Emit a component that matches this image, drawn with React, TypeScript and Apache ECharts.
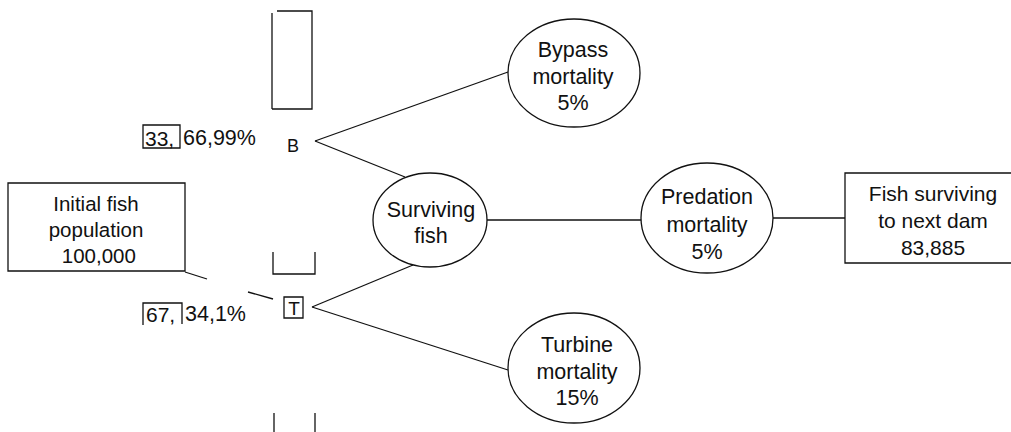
import React, { useEffect, useRef } from "react";
import * as echarts from "echarts";

// ---- Diagram content (texts) ----
const nodeNames = ["initial", "surviving", "bypass", "turbine", "predation", "final"];
const nodeTexts = [
  "Initial fish\npopulation\n 100,000",
  "Surviving\nfish",
  "Bypass\nmortality\n5%",
  "Turbine\nmortality\n15%",
  "Predation\nmortality\n5%",
  "Fish surviving\nto next dam\n83,885",
];
const routeLetters = ["B", "T"];
const routeBoxedNumbers = ["33,", "67,"];
const routePercents = ["66,99%", "34,1%"];

// ---- Layout (positions/sizes, kept separate from content) ----
const FONT = "Liberation Sans, Arial, Helvetica, sans-serif";
const INK = "#111";
const LW = 1.3;

const ellipseLayout: Record<string, { cx: number; cy: number; rx: number; ry: number; tx: number; ty: number; lh: number; fs: number }> = {
  bypass: { cx: 574, cy: 73, rx: 66, ry: 54, tx: 573, ty: 76.5, lh: 26.5, fs: 21.5 },
  surviving: { cx: 430, cy: 220, rx: 57, ry: 47, tx: 431, ty: 223, lh: 26, fs: 21.5 },
  turbine: { cx: 574, cy: 368, rx: 66, ry: 55, tx: 577, ty: 371.5, lh: 26.5, fs: 21.5 },
  predation: { cx: 707, cy: 218, rx: 66, ry: 55, tx: 707, ty: 224.5, lh: 27.5, fs: 21.5 },
};
const boxLayout: Record<string, { x: number; y: number; w: number; h: number; tx: number; ty: number; lh: number; fs: number }> = {
  initial: { x: 8, y: 183, w: 177, h: 88, tx: 96, ty: 229, lh: 26, fs: 20.5 },
  final: { x: 845, y: 173, w: 180, h: 90, tx: 933, ty: 220, lh: 27, fs: 21 },
};

const connectors: number[][][] = [
  [[315, 141], [508, 72]],
  [[315, 141], [405, 177]],
  [[312, 307], [413, 265]],
  [[312, 307], [508, 370]],
  [[487, 220], [641, 220]],
  [[773, 218], [845, 218]],
  [[185, 272], [207, 279]],
  [[248, 292], [273, 299]],
];

const damLines: number[][][] = [
  [[272, 13], [272, 109]],
  [[277, 11], [312, 11], [312, 109], [272, 109]],
  [[273, 252], [273, 274], [315, 274], [315, 252]],
  [[274, 413], [274, 440]],
  [[315, 413], [315, 440]],
];

function buildGraphics() {
  const els: any[] = [];
  els.push({ type: "rect", shape: { x: 0, y: 0, width: 1011, height: 432 }, style: { fill: "#fff" }, z: 0 });

  [...connectors, ...damLines].forEach((pts) => {
    els.push({
      type: "polyline",
      shape: { points: pts },
      style: { stroke: INK, lineWidth: LW, fill: null },
      z: 1,
    });
  });

  nodeNames.forEach((name, i) => {
    const e = ellipseLayout[name];
    const b = boxLayout[name];
    const L = e || b;
    if (e) {
      els.push({
        type: "ellipse",
        shape: { cx: e.cx, cy: e.cy, rx: e.rx, ry: e.ry },
        style: { fill: "#fff", stroke: INK, lineWidth: LW },
        z: 2,
      });
    } else if (b) {
      els.push({
        type: "rect",
        shape: { x: b.x, y: b.y, width: b.w, height: b.h },
        style: { fill: "#fff", stroke: INK, lineWidth: LW },
        z: 2,
      });
    }
    els.push({
      type: "text",
      x: L.tx,
      y: L.ty,
      style: {
        text: nodeTexts[i],
        font: `${L.fs}px ${FONT}`,
        fill: INK,
        align: "center",
        verticalAlign: "middle",
        lineHeight: L.lh,
      },
      z: 3,
    });
  });

  // Route letters
  const letterPos = [
    { x: 293, y: 146, size: 18, box: false },
    { x: 294, y: 308, size: 19, box: true },
  ];
  routeLetters.forEach((t, i) => {
    const p = letterPos[i];
    if (p.box) {
      els.push({
        type: "rect",
        shape: { x: 284, y: 297, width: 19, height: 21 },
        style: { fill: "#fff", stroke: INK, lineWidth: LW },
        z: 2,
      });
    }
    els.push({
      type: "text",
      x: p.x,
      y: p.y,
      style: { text: t, font: `${p.size}px ${FONT}`, fill: INK, align: "center", verticalAlign: "middle" },
      z: 3,
    });
  });

  // Boxed numbers and percentages
  const numPos = [
    { nx: 145, px: 183, y: 138 },
    { nx: 146, px: 185, y: 314 },
  ];
  routeBoxedNumbers.forEach((t, i) => {
    const p = numPos[i];
    if (i === 0) {
      els.push({
        type: "rect",
        shape: { x: 143, y: 125, width: 37, height: 23 },
        style: { fill: null, stroke: INK, lineWidth: LW },
        z: 2,
      });
    } else {
      els.push({
        type: "polyline",
        shape: { points: [[143, 325], [143, 303], [182, 303], [182, 324]] },
        style: { fill: null, stroke: INK, lineWidth: LW },
        z: 2,
      });
    }
    els.push({
      type: "text",
      x: p.nx,
      y: p.y,
      style: { text: t, font: `21px ${FONT}`, fill: INK, align: "left", verticalAlign: "middle" },
      z: 3,
    });
    els.push({
      type: "text",
      x: p.px,
      y: p.y,
      style: { text: routePercents[i], font: `21.5px ${FONT}`, fill: INK, align: "left", verticalAlign: "middle" },
      z: 3,
    });
  });

  return els;
}

export default function App() {
  const ref = useRef<HTMLDivElement>(null);
  useEffect(() => {
    if (!ref.current) return;
    const chart = echarts.init(ref.current, null, { renderer: "svg" });
    chart.setOption({
      animation: false,
      backgroundColor: "#fff",
      graphic: { elements: buildGraphics() },
    });
    return () => chart.dispose();
  }, []);
  return (
    <div
      ref={ref}
      style={{ position: "fixed", left: 0, top: 0, width: 1011, height: 432, background: "#fff" }}
    />
  );
}
